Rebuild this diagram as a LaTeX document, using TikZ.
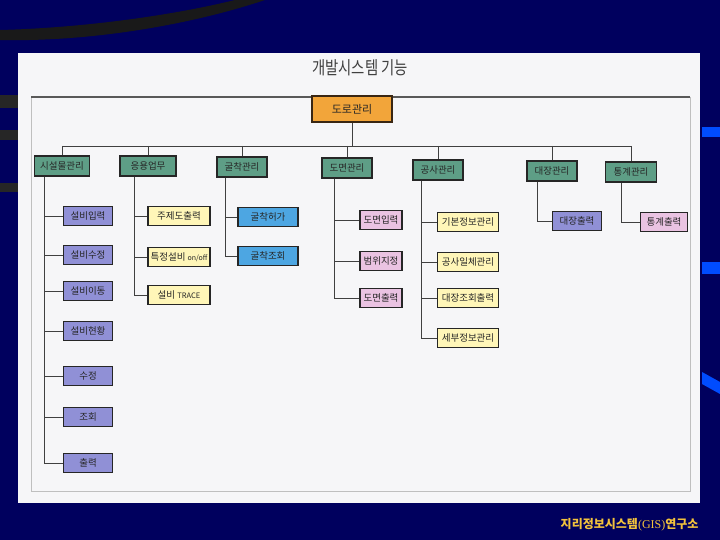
\documentclass[tikz,border=0pt]{standalone}
\usepackage{fontspec}
\setmainfont{Liberation Serif}
\newfontfamily\kr{Noto Sans CJK KR}
\definecolor{navy}{HTML}{00005E}
\definecolor{rootc}{HTML}{F2A53A}
\definecolor{lvc}{HTML}{5E9E86}
\definecolor{purc}{HTML}{9090D6}
\definecolor{yelc}{HTML}{FFF6B8}
\definecolor{skyc}{HTML}{4DA6E2}
\definecolor{pinc}{HTML}{EAC3E2}
\definecolor{footc}{HTML}{F2C23C}
\definecolor{panelc}{HTML}{F6F6F8}
\tikzset{
  box/.style={draw=black!85, line width=1.2pt, inner sep=0pt, minimum height=20pt,
    font=\kr\fontsize{9.5}{10}\selectfont, text=black!85},
  lvl/.style={box, fill=lvc, minimum height=20pt},
  kid/.style={box, minimum height=19pt},
  link/.style={draw=black!75, line width=0.9pt},
}
\begin{document}
\begin{tikzpicture}[x=1pt,y=-1pt]
\useasboundingbox (0,0) rectangle (720,540);
% slide background
\fill[navy] (0,0) rectangle (720,540);
\fill[black!90] (0,40) .. controls (90,42) and (190,25) .. (265,0) -- (235,0) .. controls (170,16) and (80,28) .. (0,30) -- cycle;
\fill[black!85] (0,95) rectangle (18,108);
\fill[black!85] (0,130) rectangle (18,140);
\fill[black!85] (0,183) rectangle (18,192);
\fill[blue!70!cyan] (702,127) rectangle (720,137);
\fill[blue!70!cyan] (702,262) rectangle (720,274);
\fill[blue!70!cyan] (702,372) -- (720,382) -- (720,394) -- (702,384) -- cycle;
% panel
\fill[panelc] (18,53) rectangle (700,503);
\draw[gray!50, line width=0.8pt] (31,97) rectangle (690,491);
\draw[gray!70!black, line width=1.5pt] (31,97) -- (690,97);
\node[font=\kr\fontsize{18}{20}\selectfont, text=black!75, xscale=0.8] (title) at (360,68) {개발시스템 기능};
% root
\node[box, fill=rootc, minimum width=80pt, minimum height=26pt, draw=black!70!brown, font=\kr\fontsize{11}{12}\selectfont] (root) at (352,109) {도로관리};
% level 1
\node[lvl, minimum width=55pt] (p1) at (62,166) {시설물관리};
\node[lvl, minimum width=56pt] (p2) at (148,166) {응용업무};
\node[lvl, minimum width=50pt] (p3) at (242,167) {굴착관리};
\node[lvl, minimum width=50pt] (p4) at (347,168) {도면관리};
\node[lvl, minimum width=50pt] (p5) at (438,170) {공사관리};
\node[lvl, minimum width=50pt] (p6) at (552,171) {대장관리};
\node[lvl, minimum width=51pt] (p7) at (631,172) {통계관리};
% bus
\coordinate (bus) at (352,146);
\draw[link] (root.south) -- (bus);
\draw[link] (p1.north |- bus) -- (p7.north |- bus);
\foreach \p in {p1,p2,p3,p4,p5,p6,p7} \draw[link] (\p.north |- bus) -- (\p.north);
% children: 시설물관리
\foreach \n/\t/\y in {a1/설비입력/216, a2/설비수정/255, a3/설비이동/291, a4/설비현황/331, a5/수정/376, a6/조회/417, a7/출력/463}
  \node[kid, fill=purc, minimum width=49pt] (\n) at (88,\y) {\t};
\foreach \n in {a1,a2,a3,a4,a5,a6,a7} \draw[link] ([xshift=11pt]p1.south west) |- (\n.west);
% 응용업무
\node[kid, fill=yelc, minimum width=62pt] (b1) at (179,216) {주제도출력};
\node[kid, fill=yelc, minimum width=62pt] (b2) at (179,257) {특정설비 {\fontsize{7}{8}\selectfont on/off}};
\node[kid, fill=yelc, minimum width=62pt] (b3) at (179,295) {설비 {\fontsize{7.5}{8}\selectfont TRACE}};
\foreach \n in {b1,b2,b3} \draw[link] ([xshift=15pt]p2.south west) |- (\n.west);
% 굴착관리
\node[kid, fill=skyc, minimum width=60pt] (c1) at (268,217) {굴착허가};
\node[kid, fill=skyc, minimum width=60pt] (c2) at (268,256) {굴착조회};
\foreach \n in {c1,c2} \draw[link] ([xshift=9pt]p3.south west) |- (\n.west);
% 도면관리
\node[kid, fill=pinc, minimum width=42pt] (d1) at (381,220) {도면입력};
\node[kid, fill=pinc, minimum width=42pt] (d2) at (381,261) {범위지정};
\node[kid, fill=pinc, minimum width=42pt] (d3) at (381,298) {도면출력};
\foreach \n in {d1,d2,d3} \draw[link] ([xshift=13pt]p4.south west) |- (\n.west);
% 공사관리
\node[kid, fill=yelc, minimum width=61pt] (e1) at (468,222) {기본정보관리};
\node[kid, fill=yelc, minimum width=61pt] (e2) at (468,262) {공사일체관리};
\node[kid, fill=yelc, minimum width=61pt] (e3) at (468,298) {대장조회출력};
\node[kid, fill=yelc, minimum width=61pt] (e4) at (468,338) {세부정보관리};
\foreach \n in {e1,e2,e3,e4} \draw[link] ([xshift=9pt]p5.south west) |- (\n.west);
% 대장관리
\node[kid, fill=purc, minimum width=49pt] (f1) at (577,221) {대장출력};
\draw[link] ([xshift=11pt]p6.south west) |- (f1.west);
% 통계관리
\node[kid, fill=pinc, minimum width=47pt] (g1) at (664,222) {통계출력};
\draw[link] ([xshift=17pt]p7.south west) |- (g1.west);
% footer
\node[anchor=east, text=footc, font=\fontsize{12}{14}\selectfont] (foot) at (702,525)
  {{\kr\bfseries 지리정보시스템}(GIS){\kr\bfseries 연구소}};
\end{tikzpicture}
\end{document}
